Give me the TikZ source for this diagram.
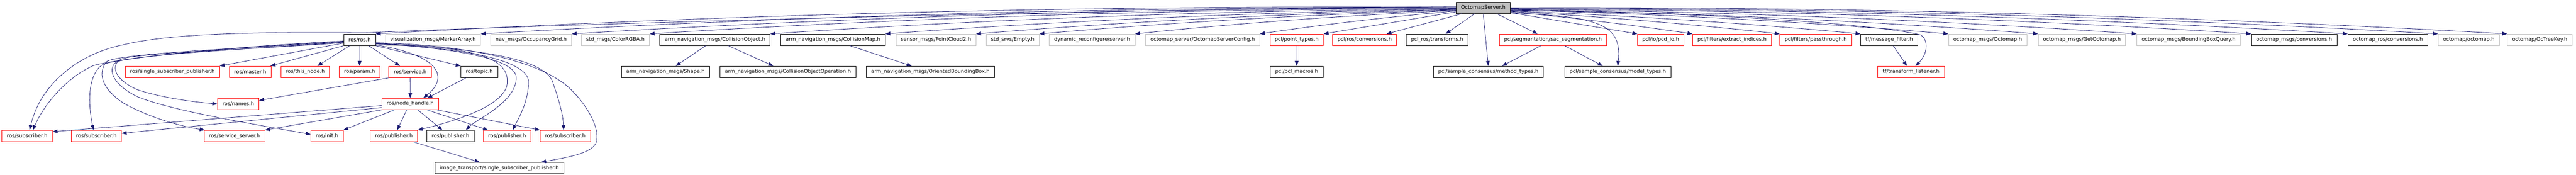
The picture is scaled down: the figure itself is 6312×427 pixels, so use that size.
\documentclass[tikz,border=0pt]{standalone}
\usepackage{fontspec}
\setmainfont{DejaVu Sans}
\usetikzlibrary{arrows.meta,calc}
\definecolor{edgec}{RGB}{25,25,112}
\definecolor{greyb}{RGB}{191,191,191}
\newcommand\bowedge[3]{\draw[edge] (#1) .. controls ($(#1)!0.33!(#2)+(0,-#3)$) and ($(#1)!0.67!(#2)+(0,-#3)$) .. (#2);}
\begin{document}
\begin{tikzpicture}[x=0.75pt,y=-0.75pt,
 box/.style={draw=black,line width=0.8pt,fill=white,inner xsep=9pt,inner ysep=0pt,minimum height=21pt,font=\fontsize{9.4pt}{11pt}\selectfont},
 redbox/.style={box,draw=red},
 greybox/.style={box,draw=greyb},
 rootbox/.style={box,fill=greyb},
 edge/.style={draw=edgec,line width=0.75pt,-{Triangle[length=9pt,width=6.8pt]}}]
\useasboundingbox (0,0) rectangle (6312,427);
% row 0
\node[rootbox] (root) at (3634.4,19) {OctomapServer.h};
% row 1
\node[box] (ros) at (881.2,97.4) {ros/ros.h};
\node[greybox] (marker) at (1061,97.4) {visualization\_msgs/MarkerArray.h};
\node[greybox] (occ) at (1301.4,97.4) {nav\_msgs/OccupancyGrid.h};
\node[greybox] (rgba) at (1507.9,97.4) {std\_msgs/ColorRGBA.h};
\node[box] (cobj) at (1751.9,97.4) {arm\_navigation\_msgs/CollisionObject.h};
\node[box] (cmap) at (2041.1,97.4) {arm\_navigation\_msgs/CollisionMap.h};
\node[greybox] (pc2) at (2293.3,97.4) {sensor\_msgs/PointCloud2.h};
\node[greybox] (empty) at (2481.3,97.4) {std\_srvs/Empty.h};
\node[greybox] (dyn) at (2676,97.4) {dynamic\_reconfigure/server.h};
\node[greybox] (cfg) at (2946.9,97.4) {octomap\_server/OctomapServerConfig.h};
\node[redbox] (ptypes) at (3177.3,97.4) {pcl/point\_types.h};
\node[redbox] (pclconv) at (3343.7,97.4) {pcl/ros/conversions.h};
\node[box] (tfm) at (3521.3,97.4) {pcl\_ros/transforms.h};
\node[redbox] (sac) at (3805.3,97.4) {pcl/segmentation/sac\_segmentation.h};
\node[redbox] (pcd) at (4069.2,97.4) {pcl/io/pcd\_io.h};
\node[redbox] (extr) at (4243.9,97.4) {pcl/filters/extract\_indices.h};
\node[redbox] (pass) at (4449.1,97.4) {pcl/filters/passthrough.h};
\node[box] (mf) at (4629.1,97.4) {tf/message\_filter.h};
\node[greybox] (omsg) at (4870.4,97.4) {octomap\_msgs/Octomap.h};
\node[greybox] (getom) at (5101.3,97.4) {octomap\_msgs/GetOctomap.h};
\node[greybox] (bbq) at (5362.8,97.4) {octomap\_msgs/BoundingBoxQuery.h};
\node[box] (omconv) at (5621.3,97.4) {octomap\_msgs/conversions.h};
\node[box] (orconv) at (5850.7,97.4) {octomap\_ros/conversions.h};
\node[greybox] (octomap) at (6049.3,97.4) {octomap/octomap.h};
\node[greybox] (key) at (6223.2,97.4) {octomap/OcTreeKey.h};
% row 2
\node[redbox] (ssp) at (422.3,175.8) {ros/single\_subscriber\_publisher.h};
\node[redbox] (master) at (613,175.8) {ros/master.h};
\node[redbox] (thisnode) at (747.9,175.8) {ros/this\_node.h};
\node[redbox] (param) at (881.2,175.8) {ros/param.h};
\node[redbox] (service) at (1005,175.8) {ros/service.h};
\node[box] (topic) at (1174.4,175.8) {ros/topic.h};
\node[box] (shape) at (1630.8,175.8) {arm\_navigation\_msgs/Shape.h};
\node[box] (coop) at (1930.6,175.8) {arm\_navigation\_msgs/CollisionObjectOperation.h};
\node[box] (obb) at (2279.8,175.8) {arm\_navigation\_msgs/OrientedBoundingBox.h};
\node[box] (macros) at (3177.3,175.8) {pcl/pcl\_macros.h};
\node[box] (method) at (3646.8,175.8) {pcl/sample\_consensus/method\_types.h};
\node[box] (model) at (3964,175.8) {pcl/sample\_consensus/model\_types.h};
\node[redbox] (tl) at (4682.7,175.8) {tf/transform\_listener.h};
% row 3
\node[redbox] (names) at (583.8,254.2) {ros/names.h};
\node[redbox] (nh) at (1005.2,254.2) {ros/node\_handle.h};
% row 4
\node[redbox] (sub1) at (66.6,332.6) {ros/subscriber.h};
\node[redbox] (sub2) at (236,332.6) {ros/subscriber.h};
\node[redbox] (ssrv) at (574.4,332.6) {ros/service\_server.h};
\node[redbox] (init) at (801.3,332.6) {ros/init.h};
\node[redbox] (pub1) at (965.3,332.6) {ros/publisher.h};
\node[box] (pub2) at (1103.9,332.6) {ros/publisher.h};
\node[redbox] (pub3) at (1242.5,332.6) {ros/publisher.h};
\node[redbox] (sub3) at (1385,332.6) {ros/subscriber.h};
% row 5
\node[box] (its) at (1223.7,411) {image\_transport/single\_subscriber\_publisher.h};

% start points on the root
\foreach \k in {0,...,12} {
  \coordinate (rl\k) at ($(root.west)+(0,\k-1)$);
  \coordinate (rr\k) at ($(root.east)+(0,\k)$);
}
% root -> left row 1
\bowedge{rl0}{ros.north east}{27}
\bowedge{rl1}{marker.north east}{24}
\bowedge{rl2}{occ.north east}{22}
\bowedge{rl3}{rgba.north east}{20}
\bowedge{rl4}{cobj.north east}{17}
\bowedge{rl5}{cmap.north east}{14}
\bowedge{rl6}{pc2.north east}{12}
\bowedge{rl7}{empty.north east}{10}
\bowedge{rl8}{dyn.north east}{8}
\bowedge{rl9}{cfg.north east}{5}
\draw[edge] (rl11) -- (ptypes.north east);
\draw[edge] ($(root.south west)+(15,0)$) -- ($(pclconv.north east)+(-25,0)$);
\draw[edge] ($(root.south)+(-21,0)$) -- ($(tfm.north)+(21,0)$);
\draw[edge] (root.south) -- (method.north);
\draw[edge] ($(root.south)+(33,0)$) -- ($(sac.north)+(-38,0)$);
\draw[edge] ($(root.west)+(0,-3)$) .. controls (2600,25) and (1400,58) .. (900,80) .. controls (650,78) and (420,80) .. (300,110) .. controls (200,130) and (100,200) .. ($(sub1.north)+(6,0)$);
% root -> right
\draw[edge] ($(root.south east)+(0,-2)$) .. controls (3920,40) and (3975,60) .. (model.north);
\draw[edge] (rr12) -- (pcd.north west);
\bowedge{rr10}{extr.north west}{4}
\bowedge{rr9}{pass.north west}{6}
\bowedge{rr8}{mf.north west}{8}
\draw[edge] (rr7) .. controls (4200,30) and (4600,60) .. (4705,85) .. controls (4725,95) and (4725,130) .. ($(tl.north)+(11,0)$);
\bowedge{rr6}{omsg.north west}{11}
\bowedge{rr5}{getom.north west}{13}
\bowedge{rr4}{bbq.north west}{15}
\bowedge{rr3}{omconv.north west}{18}
\bowedge{rr2}{orconv.north west}{20}
\bowedge{rr1}{octomap.north west}{22}
\bowedge{rr0}{key.north west}{24}

% ros -> left
\draw[edge] ($(ros.west)+(0,3)$) .. controls (600,112) and (300,140) .. (230,160) .. controls (170,185) and (110,250) .. ($(sub1.north)+(14,0)$);
\draw[edge] ($(ros.west)+(0,4)$) .. controls (600,115) and (330,135) .. (253,157) .. controls (215,180) and (215,250) .. ($(sub2.north)+(-7,0)$);
\draw[edge] ($(ros.west)+(0,5)$) .. controls (600,118) and (300,130) .. (262,150) .. controls (240,175) and (245,215) .. (304,253) .. controls (370,290) and (450,310) .. ($(ssrv.north west)+(2,0)$);
\draw[edge] ($(ros.west)+(0,6)$) .. controls (600,120) and (320,135) .. (285,152) .. controls (260,170) and (280,210) .. (338,237) .. controls (420,270) and (600,300) .. ($(init.west)+(0,-4)$);
\draw[edge] ($(ros.west)+(0,7)$) .. controls (600,122) and (330,130) .. (296,145) .. controls (270,160) and (280,195) .. (338,220) .. controls (400,240) and (480,250) .. (names.west);
\draw[edge] ($(ros.west)+(0,8)$) -- (ssp.north east);
% ros -> below
\draw[edge] (ros.south west) -- ($(master.north east)+(-2,0)$);
\draw[edge] ($(ros.south west)+(15,0)$) -- ($(thisnode.north)+(30,0)$);
\draw[edge] (ros.south) -- (param.north);
\draw[edge] ($(ros.south)+(22.5,0)$) -- ($(service.north)+(-25,0)$);
\draw[edge] (ros.south east) -- (topic.north west);
\draw[edge] ($(ros.south east)+(0,-2)$) .. controls (1080,135) and (1100,190) .. ($(nh.north)+(32,0)$);
% ros -> right curves
\draw[edge] ($(ros.east)+(0,7)$) .. controls (1150,110) and (1330,150) .. (1400,220) .. controls (1440,260) and (1468,310) .. (1462,345) .. controls (1455,375) and (1390,385) .. ($(its.north east)+(-56,0)$);
\draw[edge] ($(ros.east)+(0,8)$) .. controls (1120,115) and (1245,130) .. (1243,199) .. controls (1245,260) and (1100,300) .. (pub1.north east);
\draw[edge] ($(ros.east)+(0,9)$) .. controls (1150,120) and (1265,150) .. (1265,190) .. controls (1265,250) and (1170,290) .. ($(pub2.north)+(37.5,0)$);
\draw[edge] ($(ros.east)+(0,10)$) .. controls (1200,120) and (1295,160) .. (1295,200) .. controls (1295,250) and (1270,290) .. ($(pub3.north)+(14,0)$);
\draw[edge] ($(ros.east)+(0,9.5)$) .. controls (1250,120) and (1340,160) .. (1354,200) .. controls (1368,240) and (1380,280) .. ($(sub3.north)+(-4,0)$);
% service, topic
\draw[edge] (service.south west) -- ($(names.north east)+(0,6)$);
\draw[edge] (service.south) -- (nh.north);
\draw[edge] ($(topic.south west)+(13,0)$) -- ($(nh.north)+(42,0)$);
% node_handle
\draw[edge] ($(nh.west)+(0,4)$) -- ($(sub1.north east)+(0,4)$);
\draw[edge] ($(nh.west)+(0,9)$) -- ($(sub2.east)+(0,-6.5)$);
\draw[edge] (nh.south west) -- (ssrv.north east);
\draw[edge] ($(nh.south)+(-39,0)$) -- (init.north east);
\draw[edge] ($(nh.south)+(-8.5,0)$) -- ($(pub1.north)+(8,0)$);
\draw[edge] ($(nh.south)+(18.5,0)$) -- ($(pub2.north)+(-20,0)$);
\draw[edge] ($(nh.south)+(41.6,0)$) -- ($(pub3.north)+(-47,0)$);
\draw[edge] ($(nh.south east)+(-5,0)$) -- (sub3.north west);
\draw[edge] ($(pub1.south)+(48,0)$) -- ($(its.north)+(-48.5,0)$);
% others
\draw[edge] ($(cobj.south)+(-23,0)$) -- ($(shape.north)+(25,0)$);
\draw[edge] ($(cobj.south)+(33,0)$) -- ($(coop.north)+(-36,0)$);
\draw[edge] ($(cmap.south)+(42,0)$) -- ($(obb.north)+(-46,0)$);
\draw[edge] (ptypes.south) -- (macros.north);
\draw[edge] ($(sac.south)+(-30,0)$) -- ($(method.north)+(34,0)$);
\draw[edge] ($(sac.south)+(29,0)$) -- ($(model.north)+(-37,0)$);
\draw[edge] ($(mf.south)+(10,0)$) -- ($(tl.north)+(-10,0)$);
\end{tikzpicture}
\end{document}
